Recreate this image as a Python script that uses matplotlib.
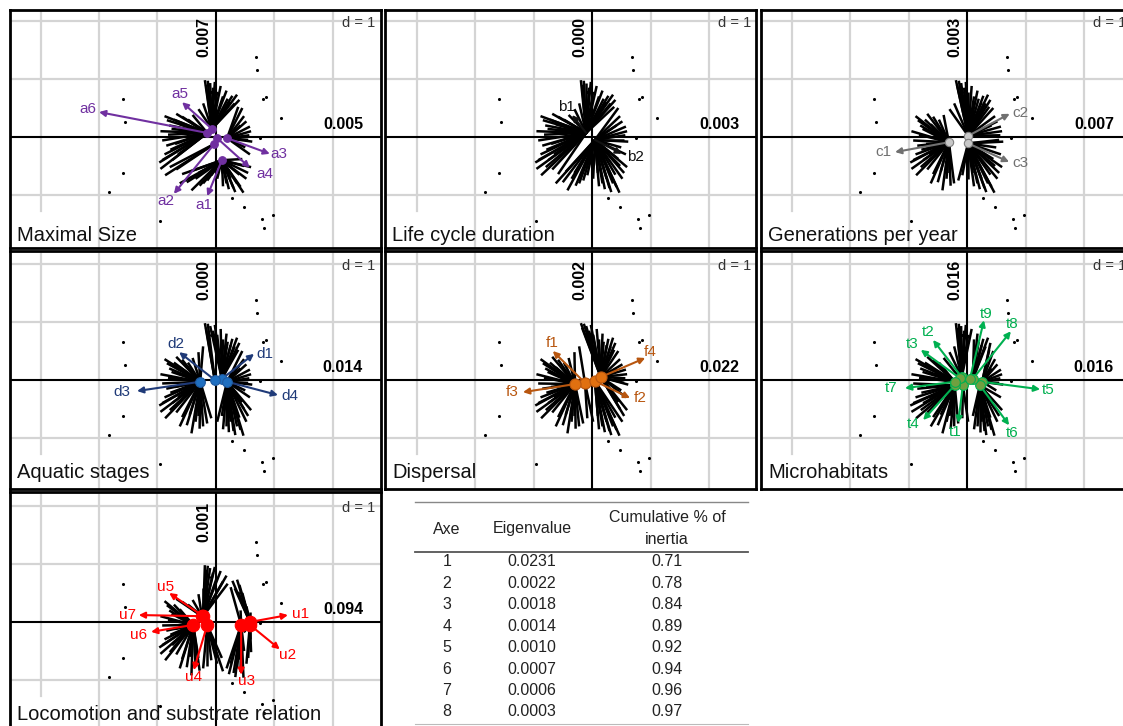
import matplotlib
matplotlib.use("Agg")
import matplotlib.pyplot as plt
import numpy as np

plt.rcParams['font.family'] = ['Liberation Sans', 'DejaVu Sans']

# ---------------- data ----------------
panel_titles = ["Maximal Size", "Life cycle duration", "Generations per year",
                "Aquatic stages", "Dispersal", "Microhabitats",
                "Locomotion and substrate relation"]
eig_vertical = ["0.007", "0.000", "0.003", "0.000", "0.002", "0.016", "0.001"]
eig_horizontal = ["0.005", "0.003", "0.007", "0.014", "0.022", "0.016", "0.094"]

# site points (black dots), common to all panels
site_x = [0.68, 0.70, 0.80, 0.85, 1.11, 0.75, -1.59, -1.56, -1.59, -1.83, -0.96,
          0.27, 0.48, 0.79, 0.97, 0.82, -0.08]
site_y = [1.38, 1.16, 0.66, 0.69, 0.33, -0.02, 0.66, 0.26, -0.62, -0.95, -1.45,
          -1.05, -1.21, -1.41, -1.34, -1.57, 0.78]

# species positions (outer ends of the star lines)
species_x = [-0.19, -0.14, -0.10, -0.05, 0.02, 0.12, 0.20, 0.28, 0.36, 0.40, 0.32, 0.45, -0.30, -0.22,
             0.48, 0.52, 0.58, 0.60, 0.57, 0.62, 0.50, 0.58, 0.45,
             0.60, 0.55, 0.52, 0.47, 0.42, 0.36, 0.30, 0.25, 0.18, 0.10, 0.02,
             -0.08, -0.22, -0.28, -0.35, -0.42, -0.50, -0.58, -0.68, -0.79, -0.87, -0.92, -0.97, -0.88, -0.78, -0.70,
             -0.92, -0.82, -0.76, -0.84, -0.88, -0.72, -0.62, -0.55, -0.48, -0.40,
             -0.17, -0.02, 0.08, 0.18, 0.25, 0.38,
             0.42, 0.55, 0.48,
             0.40, 0.33, 0.22, 0.12,
             -0.15, -0.30, -0.45, -0.62, -0.75, -0.95, -0.65,
             -0.95, -0.80, -0.68, -0.58, -0.85]
species_y = [0.98, 0.97, 0.93, 0.85, 0.78, 0.70, 0.66, 0.71, 0.73, 0.64, 0.58, 0.50, 0.48, 0.58,
             0.36, 0.27, 0.18, 0.10, 0.03, -0.08, -0.18, -0.30, -0.38,
             -0.52, -0.62, -0.72, -0.96, -0.86, -0.80, -0.88, -0.72, -0.80, -0.62, -0.72,
             -0.66, -0.80, -0.84, -0.72, -0.92, -0.78, -0.64, -0.56, -0.52, -0.66, -0.40, -0.44, -0.30, -0.22, -0.12,
             -0.06, 0.04, 0.14, 0.29, 0.36, 0.30, 0.22, 0.12, 0.30, 0.38,
             0.90, 0.95, 0.88, 0.80, 0.60, 0.52,
             0.20, -0.05, -0.50,
             -0.65, -0.95, -0.90, -0.85,
             -0.75, -0.62, -0.60, -0.80, -0.40, -0.55, -0.30,
             0.10, 0.20, 0.40, 0.35, -0.15]

# Maximal size
size_labels = ["a1", "a2", "a3", "a4", "a5", "a6"]
size_start = [(0.10, -0.40), (-0.03, -0.12), (0.19, -0.02), (0.02, -0.02), (-0.07, 0.14), (-0.15, 0.07)]
size_tip = [(-0.15, -1.02), (-0.72, -0.98), (0.92, -0.29), (0.58, -0.53), (-0.58, 0.60), (-2.0, 0.43)]
size_lab = [(-0.20, -1.17), (-0.85, -1.10), (1.08, -0.29), (0.84, -0.64), (-0.62, 0.74), (-2.19, 0.48)]

# Life cycle duration
life_labels = ["b1", "b2"]
life_start = [(-0.10, 0.07), (0.05, -0.05)]
life_tip = [(-0.34, 0.38), (0.51, -0.29)]
life_lab = [(-0.44, 0.52), (0.74, -0.34)]

# Generations per year
gen_labels = ["c1", "c2", "c3"]
gen_start = [(-0.31, -0.09), (0.02, 0.02), (0.02, -0.11)]
gen_tip = [(-1.23, -0.26), (0.73, 0.40), (0.72, -0.43)]
gen_lab = [(-1.42, -0.26), (0.92, 0.41), (0.91, -0.44)]

# Aquatic stages
aqua_labels = ["d1", "d2", "d3", "d4"]
aqua_start = [(0.10, 0.02), (-0.02, 0.0), (-0.27, -0.03), (0.19, -0.03)]
aqua_tip = [(0.65, 0.45), (-0.63, 0.48), (-1.35, -0.19), (1.06, -0.26)]
aqua_lab = [(0.84, 0.45), (-0.68, 0.62), (-1.61, -0.21), (1.26, -0.28)]

# Dispersal
disp_labels = ["f1", "f2", "f3", "f4"]
disp_start = [(-0.12, -0.05), (0.05, -0.02), (-0.29, -0.07), (0.15, 0.05)]
disp_tip = [(-0.67, 0.50), (0.65, -0.31), (-1.18, -0.21), (0.91, 0.38)]
disp_lab = [(-0.68, 0.64), (0.82, -0.31), (-1.37, -0.21), (0.99, 0.48)]

# Microhabitats
micro_labels = ["t1", "t2", "t3", "t4", "t5", "t6", "t7", "t8", "t9"]
micro_start = [(-0.07, -0.09), (-0.09, 0.05), (-0.12, 0.03), (-0.21, -0.09), (0.26, -0.03),
               (0.22, -0.09), (-0.21, -0.03), (0.10, 0.02), (0.05, 0.02)]
micro_tip = [(-0.15, -0.74), (-0.58, 0.69), (-0.79, 0.52), (-0.75, -0.69), (1.25, -0.16),
             (0.72, -0.78), (-1.06, -0.14), (0.75, 0.84), (0.29, 1.03)]
micro_lab = [(-0.21, -0.90), (-0.67, 0.83), (-0.94, 0.62), (-0.92, -0.76), (1.38, -0.17),
             (0.77, -0.91), (-1.30, -0.14), (0.77, 0.97), (0.32, 1.14)]

# Locomotion and substrate relation
loco_labels = ["u1", "u2", "u3", "u4", "u5", "u6", "u7"]
loco_start = [(0.58, 0.0), (0.58, -0.05), (0.43, -0.05), (-0.15, -0.05), (-0.22, 0.10),
              (-0.39, -0.05), (-0.24, 0.10)]
loco_tip = [(1.23, 0.12), (1.09, -0.47), (0.43, -0.91), (-0.38, -0.83), (-0.80, 0.50),
            (-1.11, -0.17), (-1.32, 0.12)]
loco_lab = [(1.45, 0.14), (1.23, -0.57), (0.53, -1.02), (-0.39, -0.95), (-0.87, 0.60),
            (-1.33, -0.22), (-1.52, 0.12)]

panel_cats = [
    (size_labels, size_start, size_tip, size_lab, "#7030A0", "#7030A0", "#7030A0", 5.5),
    (life_labels, life_start, life_tip, life_lab, "#111111", None, None, 0),
    (gen_labels, gen_start, gen_tip, gen_lab, "#707070", "#C8C8C8", "#808080", 6),
    (aqua_labels, aqua_start, aqua_tip, aqua_lab, "#1F3A78", "#1F6FC0", "#1F5AA0", 7),
    (disp_labels, disp_start, disp_tip, disp_lab, "#B8560F", "#E07010", "#B8560F", 8),
    (micro_labels, micro_start, micro_tip, micro_lab, "#00B050", "#70A040", "#00B050", 7),
    (loco_labels, loco_start, loco_tip, loco_lab, "#FF0000", "#FF0000", "#FF0000", 9),
]

# table
table_axe = ["1", "2", "3", "4", "5", "6", "7", "8"]
table_eigen = ["0.0231", "0.0022", "0.0018", "0.0014", "0.0010", "0.0007", "0.0006", "0.0003"]
table_cum = ["0.71", "0.78", "0.84", "0.89", "0.92", "0.94", "0.96", "0.97"]

# ---------------- layout ----------------
W, H = 1123, 726
fig = plt.figure(figsize=(W / 100, H / 100), dpi=100)

# overlay for the table
tax = fig.add_axes([0, 0, 1, 1])
tax.set_xlim(0, W)
tax.set_ylim(H, 0)
tax.axis("off")
tax.patch.set_alpha(0)

col_left = [10, 385, 761]
col_axis = [216, 592, 967]
row_top = [10, 251, 492]
row_axis = [137, 380, 622]
PW, PH = 371, 238
UX, UY = 58.5, 58.0
title_y = [-1.69, -1.59, -1.59]

sx = np.array(species_x)
sy = np.array(species_y)

for i in range(7):
    r, c = divmod(i, 3)
    left, top = col_left[c], row_top[r]
    ax = fig.add_axes([left / W, 1 - (top + PH) / H, PW / W, PH / H])
    x0 = (left - col_axis[c]) / UX
    x1 = (left + PW - col_axis[c]) / UX
    y1 = (row_axis[r] - top) / UY
    y0 = (row_axis[r] - (top + PH)) / UY
    ax.set_xlim(x0, x1)
    ax.set_ylim(y0, y1)
    ax.set_xticks([])
    ax.set_yticks([])
    for s in ax.spines.values():
        s.set_linewidth(2.0)
        s.set_color("black")

    # grid
    gcol = "#D4D4D4"
    for gx in [-3, -2, -1, 1, 2]:
        ybot = -1.27 if gx == -3 else y0
        ax.plot([gx, gx], [ybot, y1], color=gcol, lw=1.6, zorder=0)
    for gy in [-1, 1, 2]:
        ax.plot([x0, x1], [gy, gy], color=gcol, lw=1.6, zorder=0)
    ax.axhline(0, color="black", lw=1.5, zorder=1)
    ax.axvline(0, color="black", lw=1.5, zorder=1)

    labels, start, tip, lab, acol, dcol, ecol, msz = panel_cats[i]
    st = np.array(start)

    # site dots
    ax.scatter(site_x, site_y, s=5, color="black", zorder=2, linewidths=0)

    # star lines: each species linked to nearest category centroid
    for px, py in zip(sx, sy):
        d = (st[:, 0] - px) ** 2 + (st[:, 1] - py) ** 2
        k = int(np.argmin(d))
        ax.plot([st[k, 0], px], [st[k, 1], py], color="black", lw=1.8,
                zorder=3, solid_capstyle="butt")

    # arrows
    for (x_s, y_s), (x_t, y_t), (x_l, y_l), name in zip(start, tip, lab, labels):
        ax.annotate("", xy=(x_t, y_t), xytext=(x_s, y_s),
                    arrowprops=dict(arrowstyle="-|>", color=acol, lw=1.5,
                                    mutation_scale=9, shrinkA=0, shrinkB=0),
                    zorder=4)
        ax.text(x_l, y_l, name, color=acol, fontsize=11, ha="center",
                va="center", zorder=6)
    if dcol is not None:
        ax.scatter(st[:, 0], st[:, 1], s=msz ** 2, color=dcol, edgecolors=ecol,
                   linewidths=0.8, zorder=5)

    # texts
    ax.text(x0 + 0.12, title_y[r], panel_titles[i], fontsize=14.5, ha="left",
            va="center", color="#111111", zorder=7)
    ax.text(-0.20, 1.72, eig_vertical[i], fontsize=11.5, fontweight="bold",
            rotation=90, ha="center", va="center", zorder=7)
    ax.text(2.17, 0.21, eig_horizontal[i], fontsize=11.5, fontweight="bold",
            ha="center", va="center", zorder=7)
    ax.text(2.73, 1.97, "d = 1", fontsize=10.5, ha="right", va="center",
            color="#333333", zorder=7)

# ---------------- table ----------------
tx0, tx1 = 415, 748
tax.plot([tx0, tx1], [502, 502], color="#888888", lw=1.0)
tax.plot([tx0, tx1], [552, 552], color="#555555", lw=1.3)
tax.plot([tx0, tx1], [724, 724], color="#BBBBBB", lw=0.8)
cx = [447, 532, 667]
tcol = "#222222"
tfs = 11.5
tax.text(cx[0], 529, "Axe", ha="center", va="center", fontsize=tfs, color=tcol)
tax.text(cx[1], 529, "Eigenvalue", ha="center", va="center", fontsize=tfs, color=tcol)
tax.text(cx[2], 517, "Cumulative % of", ha="center", va="center", fontsize=tfs, color=tcol)
tax.text(cx[2], 539, "inertia", ha="center", va="center", fontsize=tfs, color=tcol)
for j, (a, e, cu) in enumerate(zip(table_axe, table_eigen, table_cum)):
    yy = 562 + 21.4 * j
    tax.text(cx[0], yy, a, ha="center", va="center", fontsize=tfs, color=tcol)
    tax.text(cx[1], yy, e, ha="center", va="center", fontsize=tfs, color=tcol)
    tax.text(cx[2], yy, cu, ha="center", va="center", fontsize=tfs, color=tcol)

fig.savefig("out.png", dpi=100)
